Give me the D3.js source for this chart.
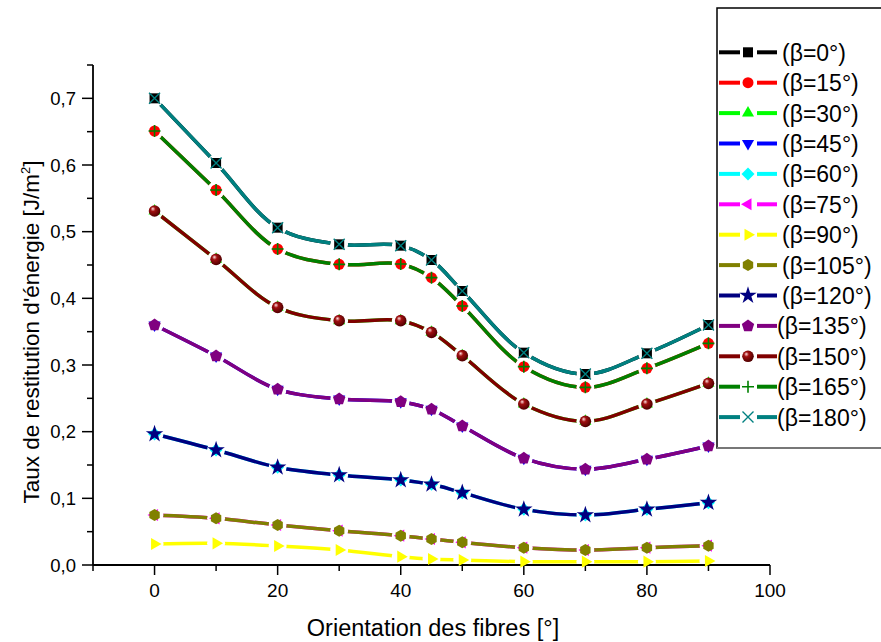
<!DOCTYPE html>
<html>
<head>
<meta charset="utf-8">
<script src="https://cdn.jsdelivr.net/npm/d3@7"></script>
<style>
  body { margin: 0; background: #fff; }
  svg { display: block; font-family: "Liberation Sans", Arial, sans-serif; }
</style>
</head>
<body>
<div id="chart"></div>
<script>
// Orientation des fibres (x values)
const orientations = [0, 10, 20, 30, 40, 45, 50, 60, 70, 80, 90];

// energy release rate for each beta angle
const beta0 = [0.700, 0.603, 0.506, 0.481, 0.479, 0.4575, 0.411, 0.3185, 0.2865, 0.3175, 0.360];
const beta15 = [0.651, 0.5625, 0.474, 0.451, 0.4515, 0.431, 0.3885, 0.2975, 0.2665, 0.295, 0.3325];
const beta30 = [0.531, 0.4585, 0.3865, 0.3665, 0.3665, 0.349, 0.314, 0.2415, 0.2155, 0.2415, 0.2725];
const beta45 = [0.360, 0.3135, 0.2635, 0.249, 0.245, 0.2335, 0.2085, 0.160, 0.1435, 0.1585, 0.1785];
const beta60 = [0.1965, 0.1725, 0.1465, 0.135, 0.1275, 0.121, 0.1085, 0.0835, 0.075, 0.0835, 0.0935];
const beta75 = [0.075, 0.070, 0.060, 0.0515, 0.044, 0.039, 0.034, 0.026, 0.0225, 0.026, 0.029];
const beta90 = [0.0315, 0.0325, 0.0285, 0.0225, 0.0125, 0.009, 0.0075, 0.005, 0.005, 0.005, 0.006];
const beta105 = [0.075, 0.070, 0.060, 0.0515, 0.044, 0.039, 0.034, 0.026, 0.0225, 0.026, 0.029];
const beta120 = [0.1965, 0.1725, 0.1465, 0.135, 0.1275, 0.121, 0.1085, 0.0835, 0.075, 0.0835, 0.0935];
const beta135 = [0.360, 0.3135, 0.2635, 0.249, 0.245, 0.2335, 0.2085, 0.160, 0.1435, 0.1585, 0.1785];
const beta150 = [0.531, 0.4585, 0.3865, 0.3665, 0.3665, 0.349, 0.314, 0.2415, 0.2155, 0.2415, 0.2725];
const beta165 = [0.651, 0.5625, 0.474, 0.451, 0.4515, 0.431, 0.3885, 0.2975, 0.2665, 0.295, 0.3325];
const beta180 = [0.700, 0.603, 0.506, 0.481, 0.479, 0.4575, 0.411, 0.3185, 0.2865, 0.3175, 0.360];

const seriesNames = ["(β=0°)", "(β=15°)", "(β=30°)", "(β=45°)", "(β=60°)", "(β=75°)", "(β=90°)",
  "(β=105°)", "(β=120°)", "(β=135°)", "(β=150°)", "(β=165°)", "(β=180°)"];
const seriesValues = [beta0, beta15, beta30, beta45, beta60, beta75, beta90,
  beta105, beta120, beta135, beta150, beta165, beta180];
const seriesColors = ["#000000", "#ff0000", "#00ff00", "#0000ff", "#00ffff", "#ff00ff", "#ffff00",
  "#808000", "#000080", "#800080", "#800000", "#008000", "#008080"];
const seriesMarkers = ["square", "circle", "triUp", "triDown", "diamond", "triLeft", "triRight",
  "hexagon", "star", "pentagon", "ball", "plus", "cross"];

const xTicks = [0, 20, 40, 60, 80, 100];
const xMinorTicks = [-10, 10, 30, 50, 70, 90];
const yTicks = [0, 0.1, 0.2, 0.3, 0.4, 0.5, 0.6, 0.7];
const yMinorTicks = [0.05, 0.15, 0.25, 0.35, 0.45, 0.55, 0.65, 0.75];

const W = 881, H = 642;
const svg = d3.select("#chart").append("svg").attr("width", W).attr("height", H);

const x = d3.scaleLinear().domain([-10, 100]).range([93, 770]);
const y = d3.scaleLinear().domain([0, 0.75]).range([565, 65]);

const defs = svg.append("defs");
const ballGrad = defs.append("radialGradient").attr("id", "ballGrad")
  .attr("cx", "40%").attr("cy", "40%").attr("r", "60%").attr("fx", "35%").attr("fy", "30%");
ballGrad.append("stop").attr("offset", "0%").attr("stop-color", "#ffe0e0");
ballGrad.append("stop").attr("offset", "35%").attr("stop-color", "#a01010");
ballGrad.append("stop").attr("offset", "100%").attr("stop-color", "#500000");

// polygon path helper
function polygon(n, r, rot) {
  const pts = d3.range(n).map((i) => {
    const a = rot + (i * 2 * Math.PI) / n;
    return [r * Math.cos(a), r * Math.sin(a)];
  });
  return "M" + pts.map((p) => p.join(",")).join("L") + "Z";
}

function drawMarker(g, type, color, cx, cy) {
  const m = g.append("g").attr("transform", `translate(${cx},${cy})`);
  switch (type) {
    case "square":
      m.append("rect").attr("x", -5).attr("y", -5).attr("width", 10).attr("height", 10).attr("fill", color);
      break;
    case "circle":
      m.append("circle").attr("r", 5.5).attr("fill", color);
      break;
    case "triUp":
      m.append("path").attr("d", polygon(3, 7, -Math.PI / 2)).attr("fill", color);
      break;
    case "triDown":
      m.append("path").attr("d", polygon(3, 7, Math.PI / 2)).attr("fill", color);
      break;
    case "triLeft":
      m.append("path").attr("d", polygon(3, 7, Math.PI)).attr("fill", color);
      break;
    case "triRight":
      m.append("path").attr("d", polygon(3, 7, 0)).attr("fill", color);
      break;
    case "diamond":
      m.append("path").attr("d", polygon(4, 6.5, 0)).attr("fill", color);
      break;
    case "hexagon":
      m.append("path").attr("d", polygon(6, 6, Math.PI / 2)).attr("fill", color);
      break;
    case "pentagon":
      m.append("path").attr("d", polygon(5, 6.5, -Math.PI / 2)).attr("fill", color);
      break;
    case "star":
      m.append("path").attr("d", d3.symbol(d3.symbolStar, 95)()).attr("fill", color);
      break;
    case "ball":
      m.append("circle").attr("r", 5.8).attr("fill", "url(#ballGrad)");
      break;
    case "plus":
      m.append("path").attr("d", "M-6,0H6M0,-6V6").attr("stroke", color).attr("stroke-width", 1.6);
      break;
    case "cross":
      m.append("path").attr("d", "M-5.5,-5.5L5.5,5.5M-5.5,5.5L5.5,-5.5").attr("stroke", color).attr("stroke-width", 1.4);
      break;
  }
}

// axes
const axisG = svg.append("g");
axisG.append("line").attr("x1", x(-10)).attr("x2", x(100)).attr("y1", y(0)).attr("y2", y(0))
  .attr("stroke", "#000").attr("stroke-width", 1.8);
axisG.append("line").attr("x1", x(-10)).attr("x2", x(-10)).attr("y1", y(0)).attr("y2", y(0.75))
  .attr("stroke", "#000").attr("stroke-width", 1.8);

axisG.selectAll(".xt").data(xTicks).join("line")
  .attr("x1", (d) => x(d)).attr("x2", (d) => x(d)).attr("y1", y(0)).attr("y2", y(0) + 10)
  .attr("stroke", "#000").attr("stroke-width", 1.5);
axisG.selectAll(".xm").data(xMinorTicks).join("line")
  .attr("x1", (d) => x(d)).attr("x2", (d) => x(d)).attr("y1", y(0)).attr("y2", y(0) + 6)
  .attr("stroke", "#000").attr("stroke-width", 1.5);
axisG.selectAll(".xl").data(xTicks).join("text")
  .attr("x", (d) => x(d)).attr("y", y(0) + 32).attr("text-anchor", "middle")
  .attr("font-size", 19).text((d) => d);

axisG.selectAll(".yt").data(yTicks).join("line")
  .attr("x1", x(-10) - 11).attr("x2", x(-10)).attr("y1", (d) => y(d)).attr("y2", (d) => y(d))
  .attr("stroke", "#000").attr("stroke-width", 1.5);
axisG.selectAll(".ym").data(yMinorTicks).join("line")
  .attr("x1", x(-10) - 6).attr("x2", x(-10)).attr("y1", (d) => y(d)).attr("y2", (d) => y(d))
  .attr("stroke", "#000").attr("stroke-width", 1.5);
axisG.selectAll(".yl").data(yTicks).join("text")
  .attr("x", x(-10) - 17).attr("y", (d) => y(d) + 6.5).attr("text-anchor", "end")
  .attr("font-size", 18.5).text((d) => d3.format(".1f")(d).replace(".", ","));

svg.append("text").attr("x", 433).attr("y", 636).attr("text-anchor", "middle")
  .attr("font-size", 23.5).text("Orientation des fibres [°]");

const yLab = svg.append("text").attr("transform", "translate(39,332) rotate(-90)")
  .attr("text-anchor", "middle").attr("font-size", 22.5);
yLab.append("tspan").text("Taux de restitution d'énergie [J/m");
yLab.append("tspan").attr("font-size", 13).attr("dy", -9).text("2");
yLab.append("tspan").attr("dy", 9).text("]");

// series lines with gaps around markers
const line = d3.line()
  .x((d) => x(d[0]))
  .y((d) => y(d[1]))
  .curve(d3.curveCatmullRom.alpha(0.5));

const plot = svg.append("g");
seriesValues.forEach((vals, i) => {
  const pts = orientations.map((o, j) => [o, vals[j]]);
  const mask = defs.append("mask").attr("id", "gap" + i).attr("maskUnits", "userSpaceOnUse")
    .attr("x", 0).attr("y", 0).attr("width", W).attr("height", H);
  mask.append("rect").attr("width", W).attr("height", H).attr("fill", "#fff");
  mask.selectAll("circle").data(pts).join("circle")
    .attr("cx", (d) => x(d[0])).attr("cy", (d) => y(d[1])).attr("r", 9).attr("fill", "#000");

  const g = plot.append("g");
  g.append("path").attr("d", line(pts)).attr("fill", "none")
    .attr("stroke", seriesColors[i]).attr("stroke-width", 3.5)
    .attr("stroke-linecap", "round").attr("mask", `url(#gap${i})`);
  pts.forEach((p) => drawMarker(g, seriesMarkers[i], seriesColors[i], x(p[0]), y(p[1])));
});

// legend
const leg = svg.append("g");
leg.append("rect").attr("x", 717).attr("y", 8).attr("width", 200).attr("height", 440)
  .attr("fill", "#fff").attr("stroke", "#000").attr("stroke-width", 1.5);
leg.append("line").attr("x1", 717).attr("x2", 881).attr("y1", 448).attr("y2", 448)
  .attr("stroke", "#777").attr("stroke-width", 2);

seriesNames.forEach((name, i) => {
  const ly = 52.3 + i * 30.4;
  const lg = leg.append("g");
  lg.append("line").attr("x1", 719).attr("x2", 740).attr("y1", ly).attr("y2", ly)
    .attr("stroke", seriesColors[i]).attr("stroke-width", 4);
  lg.append("line").attr("x1", 757).attr("x2", 777).attr("y1", ly).attr("y2", ly)
    .attr("stroke", seriesColors[i]).attr("stroke-width", 4);
  drawMarker(lg, seriesMarkers[i], seriesColors[i], 748, ly);
  lg.append("text").attr("x", i >= 9 ? 777 : 782).attr("y", ly + 8.5)
    .attr("font-size", 23).text(name);
});
</script>
</body>
</html>
